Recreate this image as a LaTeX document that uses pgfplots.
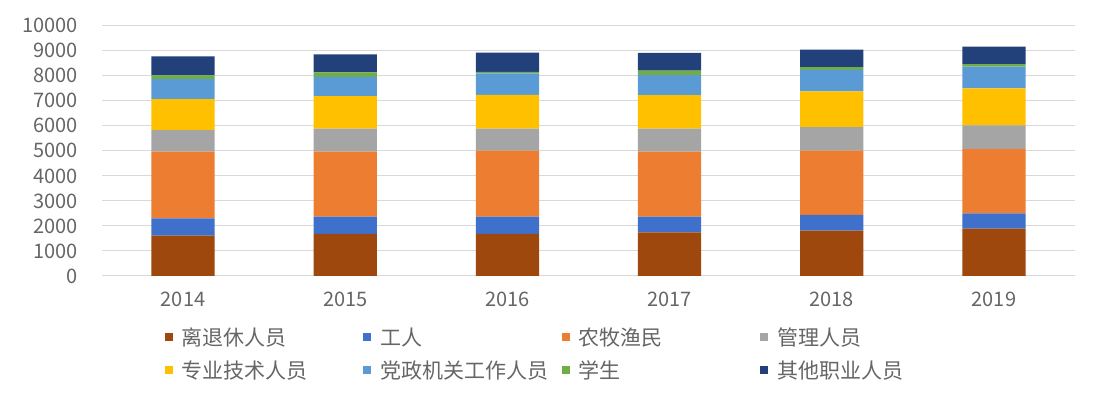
\documentclass[border=0pt]{standalone}
\usepackage{fontspec}
\setmainfont{Noto Sans CJK SC}
\usepackage{pgfplots}
\pgfplotsset{compat=1.18}
\definecolor{cBrown}{HTML}{9E480E}
\definecolor{cBlue}{HTML}{3F70CC}
\definecolor{cOrange}{HTML}{ED7D31}
\definecolor{cGray}{HTML}{A5A5A5}
\definecolor{cYellow}{HTML}{FFC000}
\definecolor{cLBlue}{HTML}{5B9BD5}
\definecolor{cGreen}{HTML}{70AD47}
\definecolor{cNavy}{HTML}{22407A}
\definecolor{cText}{HTML}{666666}
\definecolor{cGrid}{HTML}{D9D9D9}
\begin{document}
\begin{tikzpicture}
\path[use as bounding box] (0pt,0pt) rectangle (1108pt,398pt);
\begin{axis}[
  at={(102pt,122pt)}, anchor=south west,
  scale only axis, width=973pt, height=250.3pt,
  ybar stacked, bar width=0.39,
  xmin=-0.5, xmax=5.5, ymin=0, ymax=10000,
  xtick={0,1,2,3,4,5},
  xticklabels={2014,2015,2016,2017,2018,2019},
  ytick={0,1000,...,10000},
  scaled y ticks=false,
  yticklabel={\pgfmathprintnumber[fixed,precision=0,1000 sep={}]{\tick}},
  ymajorgrids, grid style={cGrid, line width=1pt},
  axis line style={draw=none},
  major tick length=0pt,
  /pgf/number format/assume math mode=true,
  /pgf/number format/1000 sep={},
  tick label style={font=\fontsize{20}{24}\selectfont, text=cText},
  yticklabel style={inner sep=0pt, anchor=east, xshift=-24pt},
  xticklabel style={inner sep=0pt, anchor=north, yshift=-16pt},
  legend columns=4,
  legend image code/.code={\fill[#1, draw=none] (0pt,-4pt) rectangle (8pt,4pt); \path (17pt,0pt);},
  legend style={draw=none, fill=none, inner sep=0pt, outer sep=0pt,
    at={(0.0647,-0.2038)}, anchor=north west,
    column sep=0pt, row sep=13pt,
    font=\fontsize{21}{24}\selectfont, text=cText,
    nodes={inner sep=0pt, text width=181.5pt, align=left, text height=18pt, text depth=2pt}},
  legend cell align=left,
]
\addplot[fill=cBrown, draw=none] coordinates {(0,1610) (1,1680) (2,1680) (3,1740) (4,1810) (5,1890)};
\addplot[fill=cBlue, draw=none] coordinates {(0,690) (1,690) (2,690) (3,630) (4,630) (5,610)};
\addplot[fill=cOrange, draw=none] coordinates {(0,2670) (1,2600) (2,2640) (3,2600) (4,2570) (5,2570)};
\addplot[fill=cGray, draw=none] coordinates {(0,860) (1,920) (2,880) (3,920) (4,940) (5,950)};
\addplot[fill=cYellow, draw=none] coordinates {(0,1240) (1,1300) (2,1350) (3,1340) (4,1430) (5,1480)};
\addplot[fill=cLBlue, draw=none] coordinates {(0,800) (1,770) (2,860) (3,800) (4,850) (5,860)};
\addplot[fill=cGreen, draw=none] coordinates {(0,150) (1,180) (2,60) (3,170) (4,110) (5,100)};
\addplot[fill=cNavy, draw=none] coordinates {(0,750) (1,710) (2,760) (3,710) (4,700) (5,700)};
\legend{离退休人员,工人,农牧渔民,管理人员,专业技术人员,党政机关工作人员,学生,其他职业人员}
\end{axis}
\end{tikzpicture}
\end{document}
